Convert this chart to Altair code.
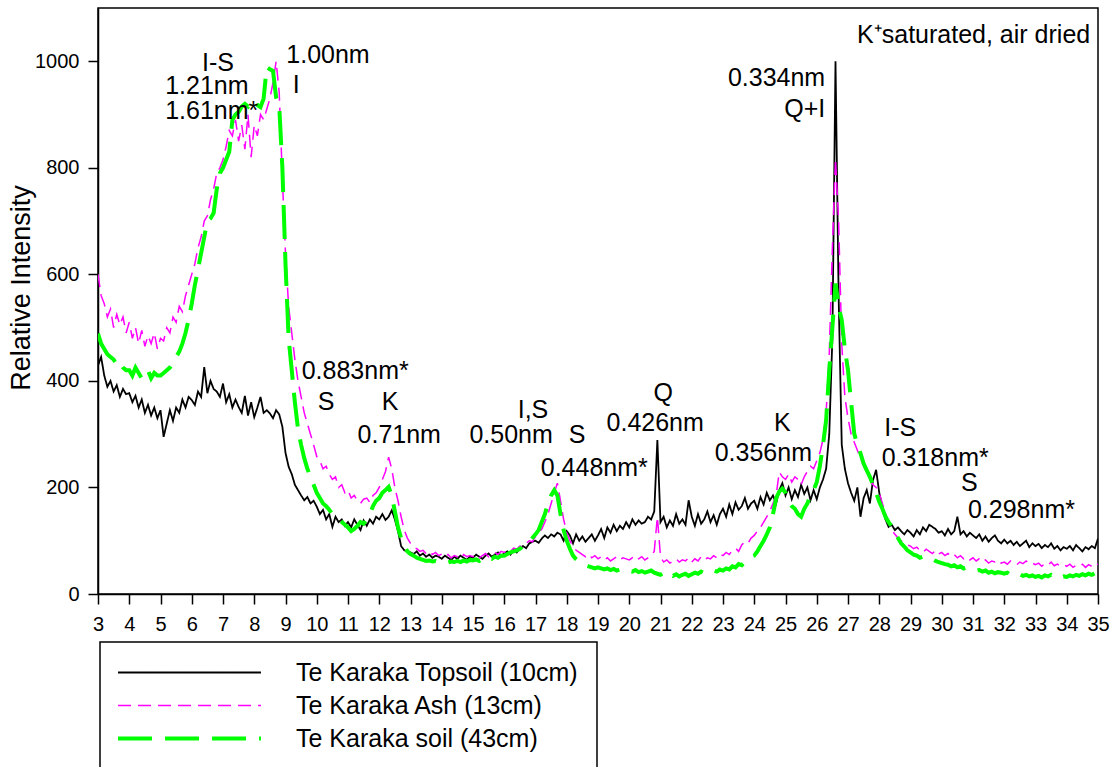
import altair as alt
import pandas as pd

# 2-theta sampling of the diffractograms (degrees, Cu K-alpha)
TWO_THETA_START = 3.0
TWO_THETA_STEP = 0.1

# Te Karaka Topsoil (10cm) – one row per degree, 3.0 ... 35.0
topsoil_10cm = [
    429, 445, 410, 389, 400, 380, 392, 370, 385, 375,
    377, 360, 372, 350, 365, 340, 355, 335, 350, 330,
    345, 295, 320, 345, 325, 350, 340, 365, 350, 370,
    364, 355, 380, 370, 426, 377, 400, 385, 380, 370,
    395, 360, 375, 350, 365, 351, 340, 372, 335, 360,
    332, 350, 370, 340, 345, 339, 330, 345, 337, 314,
    265, 239, 225, 205, 195, 185, 176, 182, 170, 175,
    164, 150, 158, 140, 150, 126, 145, 135, 140, 128,
    135, 125, 140, 130, 120, 138, 128, 140, 132, 145,
    140, 150, 139, 145, 157, 140, 118, 90, 82, 80,
    78, 75, 80, 72, 76, 70, 74, 68, 72, 70,
    66, 72, 68, 64, 70, 66, 72, 68, 64, 70,
    68, 74, 70, 66, 72, 76, 70, 74, 78, 72,
    76, 80, 74, 82, 78, 85, 90, 86, 95, 98,
    100, 96, 104, 110, 105, 112, 108, 115, 112, 100,
    118, 110, 95, 112, 100, 108, 98, 105, 112, 100,
    110, 122, 105, 125, 115, 130, 118, 128, 122, 135,
    125, 140, 130, 138, 132, 135, 145, 140, 155, 289,
    135, 145, 125, 138, 128, 150, 132, 140, 130, 176,
    145, 128, 150, 132, 140, 155, 135, 148, 130, 150,
    160, 145, 168, 150, 172, 158, 165, 180, 160, 170,
    175, 160, 182, 168, 190, 176, 185, 170, 195, 208,
    185, 200, 178, 195, 182, 205, 188, 200, 176, 195,
    178, 200, 215, 235, 300, 480, 1000, 560, 280, 235,
    208, 190, 175, 200, 145, 180, 195, 170, 214, 233,
    190, 164, 140, 126, 130, 120, 125, 118, 112, 120,
    115, 108, 120, 112, 125, 118, 130, 126, 122, 115,
    118, 110, 122, 112, 118, 145, 112, 118, 108, 115,
    110, 105, 112, 100, 108, 98, 105, 110, 100, 95,
    102, 95, 100, 92, 98, 90, 95, 100, 88, 95,
    90, 94, 86, 92, 88, 95, 85, 90, 82, 88,
    85, 90, 82, 92, 86, 80, 88, 84, 90, 86,
    104,
]

# Te Karaka Ash (13cm)
ash_13cm = [
    600, 560, 545, 520, 535, 500, 525, 505, 520, 490,
    510, 480, 500, 470, 495, 465, 485, 470, 490, 460,
    480, 475, 500, 490, 520, 510, 540, 530, 560, 580,
    600, 620, 650, 670, 700, 710, 740, 760, 790, 800,
    815, 840, 870, 860, 890, 850, 880, 835, 900, 820,
    880, 860, 900, 890, 910, 930, 960, 1000, 940, 780,
    640, 540, 490, 440, 400, 370, 340, 320, 300, 280,
    258, 250, 235, 240, 225, 215, 220, 200, 205, 190,
    195, 180, 185, 175, 170, 178, 180, 172, 185, 190,
    200, 215, 230, 257, 235, 200, 175, 145, 120, 105,
    95, 88, 85, 80, 82, 76, 80, 74, 78, 72,
    75, 70, 74, 68, 72, 70, 66, 74, 70, 72,
    70, 74, 68, 72, 76, 70, 74, 78, 74, 80,
    78, 82, 80, 86, 84, 90, 88, 95, 100, 98,
    108, 115, 122, 135, 150, 170, 190, 208, 175, 140,
    115, 100, 90, 82, 78, 74, 70, 75, 68, 72,
    66, 70, 64, 68, 62, 66, 70, 64, 68, 66,
    64, 68, 62, 66, 70, 64, 68, 72, 80, 145,
    70, 60, 64, 58, 62, 66, 60, 64, 62, 68,
    60, 66, 62, 70, 64, 68, 66, 72, 68, 75,
    72, 78, 74, 82, 86, 80, 92, 98, 95, 105,
    110, 118, 125, 135, 145, 155, 170, 185, 229, 220,
    215, 225, 210, 220, 215, 205, 220, 230, 240, 235,
    250, 265, 290, 340, 450, 650, 817, 700, 470, 370,
    330, 300, 285, 270, 255, 240, 228, 215, 205, 200,
    189, 170, 151, 135, 120, 112, 105, 100, 95, 92,
    90, 85, 88, 82, 78, 84, 80, 76, 82, 75,
    78, 72, 76, 70, 74, 68, 72, 66, 70, 64,
    68, 62, 66, 60, 64, 58, 62, 60, 64, 58,
    60, 56, 62, 58, 55, 60, 57, 62, 56, 58,
    55, 58, 52, 57, 54, 60, 53, 56, 52, 55,
    52, 56, 50, 54, 52, 56, 50, 55, 52, 58,
    55,
]

# Te Karaka soil (43cm)
soil_43cm = [
    489, 470, 460, 450, 445, 440, 430, 435, 425, 420,
    420, 410, 425, 415, 405, 410, 420, 405, 415, 410,
    410, 415, 420, 425, 435, 445, 455, 470, 490, 515,
    545, 580, 610, 640, 670, 700, 705, 715, 760, 790,
    800, 815, 830, 890, 900, 905, 915, 920, 915, 925,
    926, 918, 914, 930, 989, 985, 982, 932, 915, 800,
    620, 480, 420, 360, 310, 280, 255, 235, 220, 205,
    190, 180, 170, 165, 158, 150, 145, 140, 135, 130,
    125, 118, 122, 128, 135, 132, 140, 150, 165, 175,
    180, 190, 195, 201, 185, 155, 125, 105, 90, 80,
    75, 72, 68, 66, 64, 62, 63, 61, 62, 60,
    60, 62, 59, 61, 60, 62, 60, 63, 61, 64,
    63, 65, 62, 66, 64, 68, 66, 70, 68, 72,
    72, 75, 78, 80, 82, 85, 90, 92, 98, 105,
    112, 120, 135, 150, 170, 185, 195, 185, 150, 120,
    100, 85, 72, 65, 60, 56, 54, 52, 50, 48,
    50, 48, 46, 48, 45, 47, 44, 46, 43, 45,
    44, 42, 45, 41, 43, 40, 42, 44, 40, 38,
    36, 40, 35, 38, 34, 37, 33, 36, 38, 34,
    37, 40, 38, 42, 39, 41, 40, 44, 42, 46,
    44, 48, 46, 52, 50, 56, 54, 60, 64, 70,
    72, 80, 90, 100, 112, 125, 150, 180, 192, 198,
    190, 175, 165, 160, 150, 145, 160, 170, 185, 195,
    210, 240, 280, 326, 420, 500, 583, 540, 514, 460,
    420, 360, 301, 280, 264, 245, 232, 220, 205, 190,
    173, 160, 145, 135, 126, 115, 105, 95, 89, 82,
    78, 74, 72, 68, 70, 66, 64, 65, 62, 60,
    58, 56, 55, 52, 54, 50, 52, 48, 50, 47,
    46, 44, 45, 42, 44, 40, 42, 39, 41, 40,
    38, 40, 36, 38, 35, 37, 34, 36, 33, 35,
    32, 34, 31, 35, 33, 36, 32, 34, 31, 33,
    32, 35, 33, 36, 34, 37, 35, 38, 36, 39,
    39,
]

series_names = [
    "Te Karaka Topsoil (10cm)",
    "Te Karaka Ash (13cm)",
    "Te Karaka soil (43cm)",
]
series_colors = ["#000000", "#ff00ff", "#00ff00"]
series_dashes = [[1, 0], [13, 7], [34, 13]]
series_widths = [1.8, 1.5, 4.0]

# Peak identifications: text, 2-theta, intensity, alignment
peak_labels = [
    "I-S", "1.21nm", "1.61nm*", "1.00nm", "I",
    "0.883nm*", "S", "K", "0.71nm",
    "I,S", "0.50nm", "S", "0.448nm*",
    "Q", "0.426nm", "K", "0.356nm",
    "0.334nm", "Q+I",
    "I-S", "0.318nm*", "S", "0.298nm*",
    "K\u207asaturated, air dried",
]
peak_x = [
    6.84, 5.15, 5.15, 10.36, 9.34,
    11.23, 10.30, 12.35, 12.64,
    16.92, 16.22, 18.33, 18.88,
    21.09, 20.83, 24.90, 24.29,
    26.27, 26.27,
    28.67, 29.79, 30.88, 32.55,
    34.75,
]
peak_y = [
    997, 954, 906, 1012, 956,
    418, 360, 360, 298,
    345, 298, 298, 236,
    377, 321, 321, 264,
    969, 911,
    311, 255, 208, 158,
    1050,
]
peak_align = [
    "center", "left", "left", "center", "center",
    "center", "center", "center", "center",
    "center", "center", "center", "center",
    "center", "center", "center", "center",
    "right", "right",
    "center", "center", "center", "center",
    "right",
]

FONT = "Liberation Sans"

rows = []
for name, values in zip(series_names, [topsoil_10cm, ash_13cm, soil_43cm]):
    for i, v in enumerate(values):
        rows.append({
            "two_theta": round(TWO_THETA_START + TWO_THETA_STEP * i, 2),
            "intensity": v,
            "series": name,
        })
scans = pd.DataFrame(rows)

peaks = pd.DataFrame({
    "label": peak_labels,
    "two_theta": peak_x,
    "intensity": peak_y,
    "align": peak_align,
})

x_enc = alt.X(
    "two_theta:Q",
    scale=alt.Scale(domain=[3, 35], nice=False, zero=False),
    axis=alt.Axis(values=list(range(3, 36)), title=None, labelOverlap=False,
                  labelFlush=False, labelPadding=10, format="d"),
)
y_enc = alt.Y(
    "intensity:Q",
    scale=alt.Scale(domain=[0, 1100], nice=False),
    axis=alt.Axis(values=[0, 200, 400, 600, 800, 1000], title="Relative Intensity",
                  format="d", labelOverlap=False,
                  titleFontSize=27, titleFont=FONT, titleFontWeight="normal",
                  titleColor="black", titleX=-69, titleY=279.5, titleAngle=270,
                  titleAlign="center", titleBaseline="alphabetic", labelPadding=9),
)

lines = alt.Chart(scans).mark_line(clip=True).encode(
    x=x_enc,
    y=y_enc,
    color=alt.Color("series:N", title=None,
                    scale=alt.Scale(domain=series_names, range=series_colors)),
    strokeDash=alt.StrokeDash("series:N", title=None,
                              scale=alt.Scale(domain=series_names, range=series_dashes)),
    strokeWidth=alt.StrokeWidth("series:N", title=None,
                                scale=alt.Scale(type="ordinal", domain=series_names,
                                                range=series_widths)),
)


def label_layer(align):
    return alt.Chart(peaks).transform_filter(
        alt.datum.align == align
    ).mark_text(
        align=align, baseline="middle", font=FONT, fontSize=25, color="black"
    ).encode(
        x=x_enc,
        y=y_enc,
        text="label:N",
    )


chart = alt.layer(
    lines, label_layer("center"), label_layer("left"), label_layer("right")
).properties(
    width=1000,
    height=586,
    padding={"left": 98, "top": 8, "right": 14, "bottom": 173},
    autosize=alt.AutoSizeParams(type="none"),
    background="white",
).configure_view(
    stroke="black", strokeWidth=1.5
).configure_axis(
    grid=False,
    domainColor="black",
    domainWidth=1.5,
    tickColor="black",
    tickWidth=1.5,
    tickSize=10,
    labelFont=FONT,
    labelFontSize=20,
    labelColor="black",
    labelOverlap=False,
).configure_legend(
    orient="none",
    legendX=2,
    legendY=634,
    strokeColor="black",
    strokeWidth=1.5,
    fillColor="white",
    padding=18,
    symbolType="M-7,0H7",
    symbolSize=417,
    symbolOffset=59,
    labelOffset=94,
    labelFont=FONT,
    labelFontSize=25,
    labelColor="black",
    labelLimit=400,
    rowPadding=7,
)

chart.save("out.html", embed_options={"renderer": "svg", "actions": False})
